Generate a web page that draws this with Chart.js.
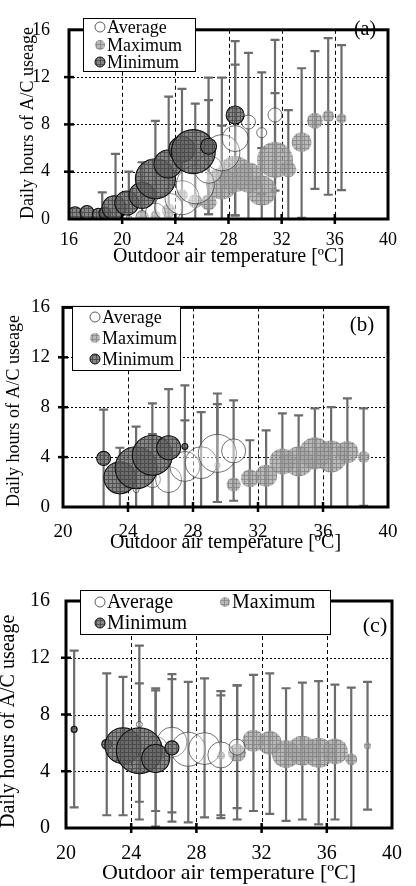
<!DOCTYPE html>
<html lang="en">
<head>
<meta charset="UTF-8">
<meta name="viewport" content="width=device-width, initial-scale=1.0">
<title>Daily hours of A/C useage</title>
<style>
  html, body { margin: 0; padding: 0; background: #fff; overflow: hidden; }
  .panel { position: absolute; left: 0; width: 416px; }
  canvas { display: block; }
</style>
</head>
<body>
<div class="panel" style="top:0px"><canvas id="ca" width="416" height="280"></canvas></div>
<div class="panel" style="top:283px"><canvas id="cb" width="416" height="272"></canvas></div>
<div class="panel" style="top:568px"><canvas id="cc" width="416" height="318"></canvas></div>

<script src="https://cdn.jsdelivr.net/npm/chart.js"></script>
<script>
// ---- panel (a) ----
const aAvgX = [20.5, 21.5, 22.5, 23.5, 24.5, 25.5, 26.5, 27.5, 28.5, 29.5, 30.5, 31.5];
const aAvgY = [0.05, 0.2, 0.5, 1.0, 1.8, 2.9, 4.2, 5.6, 6.8, 8.2, 7.3, 8.8];
const aAvgR = [3, 6, 10, 14, 17, 19, 14, 18, 13, 7, 5, 7];
const aMaxX = [21.5, 22.5, 23.5, 24.5, 25.5, 26.5, 27.5, 28.5, 29.5, 30.5, 31.5, 32.5, 33.5, 34.5, 35.5, 36.5];
const aMaxY = [0.3, 0.3, 0.7, 2.0, 1.5, 1.4, 3.0, 3.8, 3.5, 2.4, 5.0, 4.2, 6.5, 8.3, 8.7, 8.5];
const aMaxR = [5, 5, 7, 6, 7, 8, 16, 18, 15, 15, 18, 8, 10, 8, 6, 5];
const aMinX = [16.45, 17.35, 18.2, 18.7, 19.4, 20.35, 21.5, 22.5, 23.45, 24.5, 25.35, 26.5, 28.5];
const aMinY = [0.45, 0.55, 0.4, 0.5, 0.95, 1.35, 2.0, 3.4, 4.65, 5.9, 5.7, 6.15, 8.8];
const aMinR = [7, 7, 6, 6, 12, 12, 13, 20, 14, 13, 22, 8, 9];
const aBarX  = [18.5, 19.5, 20.5, 21.5, 22.5, 23.5, 24.5, 25.5, 26.5, 27.5, 28.5, 29.5, 30.5, 31.5, 32.5, 33.5, 34.5, 35.5, 36.5];
const aBarLo = [0, 0, 0, 0, 0, 0, 0, 0, 0.4, 0, 0.3, 0, 0, 0, 0, 0.1, 2.55, 2.05, 2.45];
const aBarHi = [2.25, 5.5, 4.0, 4.8, 8.3, 10.35, 11.0, 9.75, 11.95, 11.95, 15.05, 14.05, 12.4, 15.15, 9.2, 12.75, 14.2, 15.3, 14.7];
const aBar2X  = [26.5, 27.5, 28.5, 30.5, 31.5];
const aBar2Lo = [0.4, 0, 0.3, 2.1, 2.4];
const aBar2Hi = [10.05, 7.9, 13.05, 6.0, 10.65];

// ---- panel (b) ----
const bAvgX = [24.5, 25.5, 26.5, 27.5, 28.5, 29.5, 30.5];
const bAvgY = [1.4, 2.2, 2.2, 3.25, 3.55, 4.3, 4.5];
const bAvgR = [3, 8, 13, 15, 16, 19, 12];
const bMaxX = [29.5, 30.5, 31.5, 32.5, 33.5, 34.5, 35.5, 36.5, 37.5, 38.5];
const bMaxY = [3.35, 1.8, 2.3, 2.5, 3.65, 3.65, 4.3, 4.05, 4.4, 4.0];
const bMaxR = [3, 7, 9, 11, 13, 15, 16, 16, 11, 6];
const bMinX = [22.5, 23.5, 24.5, 25.5, 26.5, 27.5];
const bMinY = [3.9, 2.35, 3.15, 4.15, 4.75, 4.85];
const bMinR = [7, 16, 21, 20, 12, 3];
const bBarX  = [22.5, 23.5, 24.5, 25.5, 26.5, 27.5, 28.5, 29.5, 30.5, 31.5, 32.5, 33.5, 34.5, 35.5, 36.5, 37.5, 38.5];
const bBarLo = [0, 0, 0, 0, 0, 0, 0, 0.4, 0.5, 0, 0, 0, 0, 0, 0, 0, 0.1];
const bBarHi = [7.8, 4.75, 6.45, 8.3, 9.45, 9.75, 7.6, 9.1, 8.55, 5.35, 6.15, 7.5, 7.35, 7.9, 8.0, 8.7, 7.9];
const bBar2X  = [25.5, 27.5, 29.5];
const bBar2Lo = [0, 0, 0.4];
const bBar2Hi = [5.85, 6.95, 8.25];

// ---- panel (c) ----
const cAvgX = [24.5, 25.5, 26.5, 27.5, 28.5, 29.5, 30.5];
const cAvgY = [7.3, 5.6, 6.05, 5.55, 5.6, 5.15, 5.7];
const cAvgR = [3, 12, 15, 17, 16, 13, 8];
const cMaxX = [29.5, 30.5, 31.5, 32.5, 33.5, 34.5, 35.5, 36.5, 37.5, 38.5];
const cMaxY = [5.1, 5.3, 6.15, 6.0, 5.2, 5.45, 5.3, 5.4, 4.85, 5.8];
const cMaxR = [4, 9, 11, 12, 14, 15, 15, 13, 6, 3.5];
const cMinX = [20.5, 22.5, 23.5, 24.5, 25.5, 26.5];
const cMinY = [6.95, 5.9, 5.8, 5.45, 4.9, 5.65];
const cMinR = [3, 5, 18, 23, 14, 7];
const cBarX  = [20.5, 22.5, 23.5, 24.5, 25.5, 26.5, 27.5, 28.5, 29.5, 30.5, 31.5, 32.5, 33.5, 34.5, 35.5, 36.5, 37.5, 38.5];
const cBarLo = [1.45, 0.9, 0.9, 0.6, 0.1, 0.45, 0.4, 0.75, 0.7, 0.6, 1.2, 1.0, 0.5, 0.6, 0.25, 0.6, 0, 1.3];
const cBarHi = [12.5, 10.9, 10.65, 12.85, 9.85, 10.85, 10.3, 10.55, 9.65, 10.05, 10.8, 10.9, 9.85, 10.25, 10.35, 10.1, 9.9, 10.3];
const cBar2X  = [24.5, 25.5, 26.5, 29.5, 30.5];
const cBar2Lo = [1.85, 1.2, 1.1, 0.9, 1.4];
const cBar2Hi = [10.2, 9.7, 10.5, 9.35, 10.05];

const xTitle = 'Outdoor air temperature [ºC]';
const yTitle = 'Daily hours of A/C useage';
const SERIF = '"Liberation Serif", "Times New Roman", serif';

// small cross-hatched tile used for the grey bubbles
function hatch(ctx, base, line) {
  const t = document.createElement('canvas');
  t.width = 4; t.height = 4;
  const g = t.getContext('2d');
  g.fillStyle = base; g.fillRect(0, 0, 4, 4);
  g.fillStyle = line; g.fillRect(0, 0, 4, 1); g.fillRect(0, 0, 1, 4);
  return ctx.createPattern(t, 'repeat');
}

function marker(ctx, kind, x, y, st) {
  ctx.beginPath();
  ctx.arc(x, y, 5, 0, Math.PI * 2);
  if (kind === 'avg') {
    ctx.fillStyle = '#fff'; ctx.fill();
    ctx.lineWidth = 0.8; ctx.strokeStyle = '#333'; ctx.stroke();
  } else {
    ctx.fillStyle = kind === 'max' ? st.maxFill : st.minFill; ctx.fill();
    if (kind === 'min') { ctx.lineWidth = 1; ctx.strokeStyle = '#111'; ctx.stroke(); }
  }
}

function drawBars(ctx, x, y, xs, lo, hi) {
  xs.forEach((v, i) => {
    const px = x.getPixelForValue(v);
    const pl = y.getPixelForValue(lo[i]);
    const ph = y.getPixelForValue(hi[i]);
    ctx.beginPath();
    ctx.moveTo(px, pl); ctx.lineTo(px, ph);
    ctx.moveTo(px - 4.5, ph); ctx.lineTo(px + 4.5, ph);
    ctx.moveTo(px - 4.5, pl); ctx.lineTo(px + 4.5, pl);
    ctx.stroke();
  });
}

const framePlugin = {
  id: 'frame',
  beforeDatasetsDraw(chart, args, p) {
    const {ctx, chartArea: a, scales: {x, y}} = chart;
    ctx.save();
    ctx.strokeStyle = '#000';
    ctx.lineWidth = 1;
    ctx.setLineDash([2, 2]);
    y.ticks.filter(t => t.value > y.min && t.value < y.max).forEach(t => {
      const py = Math.round(y.getPixelForValue(t.value)) + 0.5;
      ctx.beginPath(); ctx.moveTo(a.left, py); ctx.lineTo(a.right, py); ctx.stroke();
    });
    ctx.setLineDash([4, 3]);
    x.ticks.filter(t => t.value > x.min && t.value < x.max).forEach(t => {
      const px = Math.round(x.getPixelForValue(t.value)) + 0.5;
      ctx.beginPath(); ctx.moveTo(px, a.top); ctx.lineTo(px, a.bottom); ctx.stroke();
    });
    ctx.setLineDash([]);
    ctx.strokeStyle = '#6c6c6c';
    ctx.lineWidth = 2.2;
    drawBars(ctx, x, y, p.barX, p.barLo, p.barHi);
    drawBars(ctx, x, y, p.bar2X, p.bar2Lo, p.bar2Hi);
    ctx.restore();
  },
  afterDatasetsDraw(chart, args, p) {
    const {ctx, chartArea: a, scales: {x, y}} = chart;
    ctx.save();
    ctx.strokeStyle = '#000';
    ctx.lineWidth = 3;
    ctx.strokeRect(a.left, a.top, a.right - a.left, a.bottom - a.top);
    ctx.lineWidth = 2.5;
    x.ticks.filter(t => t.value > x.min && t.value < x.max).forEach(t => {
      const px = x.getPixelForValue(t.value);
      ctx.beginPath(); ctx.moveTo(px, a.bottom - 5); ctx.lineTo(px, a.bottom + 5); ctx.stroke();
    });
    y.ticks.filter(t => t.value > y.min && t.value < y.max).forEach(t => {
      const py = y.getPixelForValue(t.value);
      ctx.beginPath(); ctx.moveTo(a.left - 5, py); ctx.lineTo(a.left + 5, py); ctx.stroke();
    });
    // legend box
    const L = p.legend;
    ctx.fillStyle = '#fff';
    ctx.fillRect(L.x, L.y, L.w, L.h);
    ctx.lineWidth = 1;
    ctx.strokeRect(L.x + 0.5, L.y + 0.5, L.w, L.h);
    ctx.font = L.size + 'px ' + SERIF;
    ctx.textBaseline = 'middle';
    ctx.textAlign = 'left';
    L.rows.forEach(r => {
      marker(ctx, r.kind, r.x, r.y, p);
      ctx.fillStyle = '#000';
      ctx.fillText(r.text, r.x + 7, r.y + 1);
    });
    // panel label
    ctx.font = p.tag.size + 'px ' + SERIF;
    ctx.textAlign = 'center';
    ctx.fillStyle = '#000';
    ctx.fillText(p.tag.text, p.tag.x, p.tag.y);
    ctx.restore();
  }
};

function pts(xs, ys, rs) {
  return xs.map((v, i) => ({x: v, y: ys[i], r: rs[i]}));
}

function makePanel(id, p) {
  const ctx = document.getElementById(id).getContext('2d');
  p.maxFill = hatch(ctx, 'rgba(160,160,160,0.75)', 'rgba(130,130,130,0.75)');
  p.minFill = hatch(ctx, 'rgba(100,100,100,0.78)', 'rgba(70,70,70,0.78)');
  const H = ctx.canvas.height;
  return new Chart(ctx, {
    type: 'bubble',
    data: {
      datasets: [
        {label: 'Minimum', data: pts(p.minX, p.minY, p.minR), backgroundColor: p.minFill,
         borderColor: '#111', borderWidth: 1.1, order: 0},
        {label: 'Average', data: pts(p.avgX, p.avgY, p.avgR), backgroundColor: 'rgba(255,255,255,0.3)',
         borderColor: 'rgba(60,60,60,0.9)', borderWidth: 0.8, order: 1},
        {label: 'Maximum', data: pts(p.maxX, p.maxY, p.maxR), backgroundColor: p.maxFill,
         borderWidth: 0, order: 2}
      ]
    },
    options: {
      responsive: false,
      animation: false,
      events: [],
      layout: {
        autoPadding: false,
        padding: {left: 0, top: p.top, right: 416 - p.right, bottom: H - p.bottom - p.xh}
      },
      plugins: {
        legend: {display: false},
        tooltip: {enabled: false},
        frame: p
      },
      scales: {
        x: {
          type: 'linear', min: p.xMin, max: 40,
          afterFit: s => { s.height = p.xh; },
          grid: {display: false, drawTicks: false},
          border: {display: false},
          ticks: {stepSize: 4, color: '#000', padding: p.xPad, maxRotation: 0,
                  font: {family: SERIF, size: p.tick}},
          title: {display: true, text: xTitle, color: '#000', padding: 0,
                  font: {family: SERIF, size: p.xt}}
        },
        y: {
          min: 0, max: 16,
          afterFit: s => { s.width = p.left; },
          grid: {display: false, drawTicks: false},
          border: {display: false},
          ticks: {stepSize: 4, color: '#000', padding: p.yPad,
                  font: {family: SERIF, size: p.tick}},
          title: {display: true, text: yTitle, color: '#000', align: 'start',
                  padding: {top: p.ytPad, bottom: 0}, font: {family: SERIF, size: p.yt}}
        }
      }
    },
    plugins: [framePlugin]
  });
}

makePanel('ca', {
  avgX: aAvgX, avgY: aAvgY, avgR: aAvgR, maxX: aMaxX, maxY: aMaxY, maxR: aMaxR,
  minX: aMinX, minY: aMinY, minR: aMinR,
  barX: aBarX, barLo: aBarLo, barHi: aBarHi, bar2X: aBar2X, bar2Lo: aBar2Lo, bar2Hi: aBar2Hi,
  xMin: 16, left: 69, right: 388, top: 13, bottom: 219, xh: 50,
  tick: 18, xt: 20, yt: 18, ytPad: 17, yPad: 19, xPad: 10,
  legend: {x: 83, y: 18, w: 112, h: 53, size: 18, rows: [
    {text: 'Average', kind: 'avg', x: 100, y: 27},
    {text: 'Maximum', kind: 'max', x: 100, y: 45},
    {text: 'Minimum', kind: 'min', x: 100, y: 62}
  ]},
  tag: {text: '(a)', x: 365, y: 30, size: 20}
});

makePanel('cb', {
  avgX: bAvgX, avgY: bAvgY, avgR: bAvgR, maxX: bMaxX, maxY: bMaxY, maxR: bMaxR,
  minX: bMinX, minY: bMinY, minR: bMinR,
  barX: bBarX, barLo: bBarLo, barHi: bBarHi, bar2X: bBar2X, bar2Lo: bBar2Lo, bar2Hi: bBar2Hi,
  xMin: 20, left: 63, right: 388, top: 18, bottom: 224, xh: 47.5,
  tick: 19, xt: 20, yt: 18, ytPad: 3, yPad: 13, xPad: 14,
  legend: {x: 72, y: 23, w: 108, h: 64, size: 18, rows: [
    {text: 'Average', kind: 'avg', x: 95, y: 34},
    {text: 'Maximum', kind: 'max', x: 95, y: 55},
    {text: 'Minimum', kind: 'min', x: 95, y: 76}
  ]},
  tag: {text: '(b)', x: 362, y: 42, size: 21}
});

makePanel('cc', {
  avgX: cAvgX, avgY: cAvgY, avgR: cAvgR, maxX: cMaxX, maxY: cMaxY, maxR: cMaxR,
  minX: cMinX, minY: cMinY, minR: cMinR,
  barX: cBarX, barLo: cBarLo, barHi: cBarHi, bar2X: cBar2X, bar2Lo: cBar2Lo, bar2Hi: cBar2Hi,
  xMin: 20, left: 66, right: 403, top: 33, bottom: 260, xh: 58,
  tick: 20, xt: 22, yt: 20, ytPad: -3, yPad: 16, xPad: 14,
  legend: {x: 80, y: 22, w: 250, h: 44, size: 20, rows: [
    {text: 'Average', kind: 'avg', x: 100, y: 34},
    {text: 'Maximum', kind: 'max', x: 225, y: 34},
    {text: 'Minimum', kind: 'min', x: 100, y: 55}
  ]},
  tag: {text: '(c)', x: 375, y: 58, size: 22}
});
</script>
</body>
</html>
